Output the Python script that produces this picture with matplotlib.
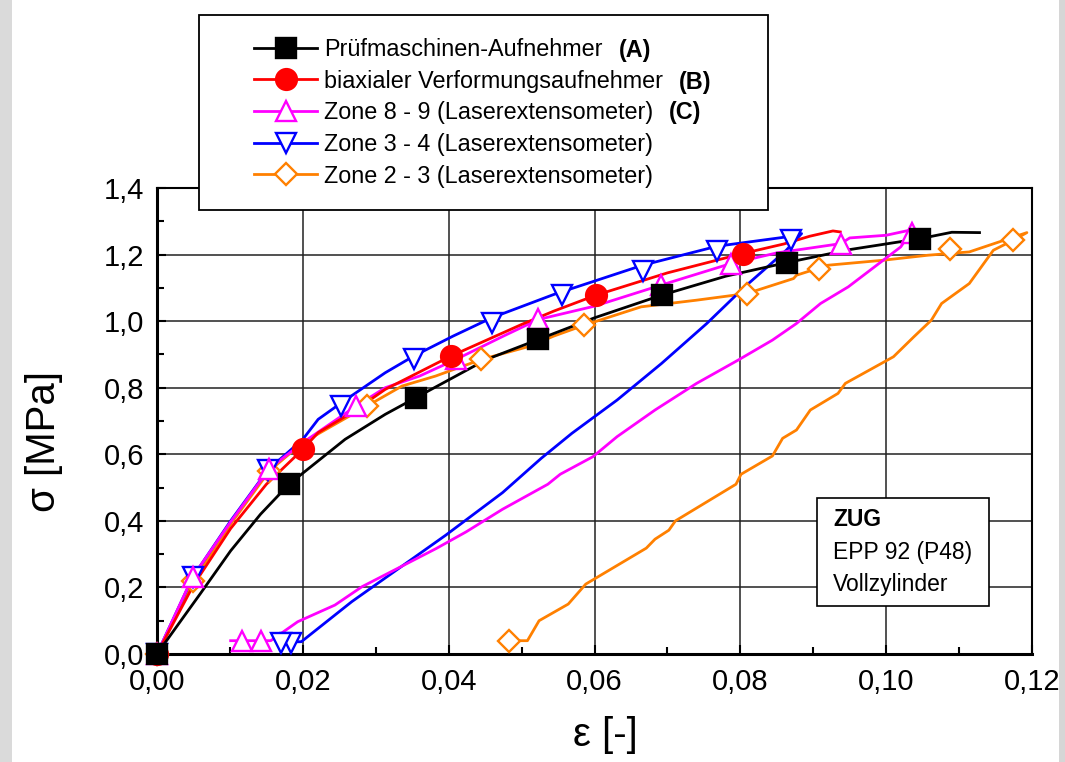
import matplotlib.pyplot as plt
from matplotlib.lines import Line2D
from matplotlib.patches import Rectangle
from matplotlib.ticker import MultipleLocator, FuncFormatter

plt.rcParams['font.family'] = ['Liberation Sans', 'DejaVu Sans']

# --- data (strain eps [-], stress sigma [MPa]) ---

# (A) Pruefmaschinen-Aufnehmer, loading only
a_x = [0, 0.0036, 0.0059, 0.0101, 0.0142, 0.0181, 0.0258, 0.0313, 0.0355, 0.0452,
       0.0523, 0.060, 0.0692, 0.078, 0.0864, 0.095, 0.1047, 0.109, 0.1128]
a_y = [0, 0.11, 0.18, 0.31, 0.42, 0.51, 0.645, 0.72, 0.77, 0.885,
       0.945, 1.01, 1.078, 1.135, 1.176, 1.215, 1.248, 1.267, 1.266]
a_mx = [0, 0.0181, 0.0355, 0.0523, 0.0692, 0.0864, 0.1047]
a_my = [0, 0.51, 0.77, 0.945, 1.078, 1.176, 1.248]

# (B) biaxialer Verformungsaufnehmer
b_x = [0, 0.005, 0.0101, 0.015, 0.02, 0.0221, 0.0267, 0.0313, 0.0403, 0.05,
       0.0544, 0.0602, 0.07, 0.0803, 0.086, 0.0895, 0.0927, 0.0937]
b_y = [0, 0.207, 0.377, 0.51, 0.615, 0.665, 0.725, 0.795, 0.895, 0.99,
       1.03, 1.078, 1.145, 1.203, 1.232, 1.255, 1.271, 1.268]
b_mx = [0, 0.02, 0.0403, 0.0602, 0.0803]
b_my = [0, 0.615, 0.895, 1.078, 1.203]

# (C) Zone 8 - 9, loading then unloading
c_x = [0, 0.0049, 0.0101, 0.0154, 0.02, 0.0273, 0.0313, 0.036, 0.041, 0.0475,
       0.0523, 0.06, 0.0691, 0.0787, 0.085, 0.0938, 0.095, 0.100, 0.1036,
       0.102, 0.0948, 0.091, 0.0877, 0.0844, 0.0797, 0.074, 0.0683, 0.0631,
       0.0598, 0.0553, 0.0536, 0.0474, 0.0424, 0.0383, 0.0281, 0.0244, 0.0193,
       0.0156, 0.0101]
c_y = [0, 0.232, 0.397, 0.557, 0.635, 0.745, 0.80, 0.835, 0.885, 0.955,
       1.005, 1.045, 1.108, 1.173, 1.205, 1.233, 1.25, 1.258, 1.275,
       1.223, 1.103, 1.053, 0.993, 0.943, 0.883, 0.813, 0.733, 0.653,
       0.593, 0.54, 0.51, 0.435, 0.367, 0.317, 0.202, 0.147, 0.097,
       0.04, 0.04]
c_mx = [0, 0.0049, 0.0154, 0.0273, 0.041, 0.0523, 0.0691, 0.0787, 0.0938, 0.1036, 0.0142, 0.0117]
c_my = [0, 0.232, 0.557, 0.745, 0.885, 1.005, 1.108, 1.173, 1.233, 1.265, 0.04, 0.04]

# Zone 3 - 4, loading then unloading
d_x = [0, 0.0049, 0.0101, 0.0152, 0.02, 0.0221, 0.0253, 0.0313, 0.0352, 0.0406,
       0.0459, 0.0544, 0.0666, 0.0768, 0.087, 0.0884,
       0.0863, 0.0806, 0.0754, 0.0692, 0.0631, 0.0569, 0.0527, 0.0474, 0.0396,
       0.0267, 0.0198, 0.0165]
d_y = [0, 0.231, 0.40, 0.553, 0.645, 0.705, 0.755, 0.845, 0.895, 0.955,
       1.01, 1.08, 1.168, 1.225, 1.255, 1.263,
       1.213, 1.103, 0.993, 0.873, 0.763, 0.663, 0.588, 0.485, 0.357,
       0.157, 0.037, 0.035]
d_mx = [0, 0.0049, 0.0152, 0.0253, 0.0352, 0.0459, 0.0555, 0.0666, 0.0768, 0.087, 0.0184, 0.017]
d_my = [0, 0.231, 0.553, 0.745, 0.885, 0.995, 1.078, 1.152, 1.212, 1.245, 0.032, 0.032]

# Zone 2 - 3, loading then unloading
e_x = [0, 0.005, 0.0101, 0.0154, 0.02, 0.0288, 0.0336, 0.0382, 0.0445, 0.0512,
       0.0544, 0.0586, 0.0664, 0.074, 0.0809, 0.0873, 0.0877, 0.092, 0.0996,
       0.1057, 0.1114, 0.1193,
       0.1174, 0.1147, 0.1114, 0.1076, 0.1062, 0.1038, 0.101, 0.0944, 0.0934,
       0.0896, 0.0877, 0.0858, 0.0844, 0.0801, 0.0794, 0.0711, 0.0702, 0.0683,
       0.0671, 0.0588, 0.0564, 0.0524, 0.0508, 0.0483]
e_y = [0, 0.22, 0.39, 0.55, 0.635, 0.745, 0.805, 0.835, 0.885, 0.925,
       0.955, 0.988, 1.043, 1.063, 1.083, 1.128, 1.138, 1.168, 1.183,
       1.198, 1.208, 1.266,
       1.243, 1.213, 1.113, 1.053, 1.003, 0.953, 0.893, 0.813, 0.783,
       0.733, 0.673, 0.648, 0.595, 0.54, 0.51, 0.40, 0.372, 0.345,
       0.318, 0.21, 0.15, 0.10, 0.04, 0.04]
e_mx = [0, 0.005, 0.0154, 0.0288, 0.0445, 0.0586, 0.0809, 0.0908, 0.1088, 0.1174, 0.0483]
e_my = [0, 0.22, 0.55, 0.745, 0.885, 0.988, 1.083, 1.158, 1.218, 1.243, 0.04]

labels = ['Prüfmaschinen-Aufnehmer', 'biaxialer Verformungsaufnehmer',
          'Zone 8 - 9 (Laserextensometer)', 'Zone 3 - 4 (Laserextensometer)',
          'Zone 2 - 3 (Laserextensometer)']
tags = ['(A)', '(B)', '(C)']
box_lines = ['ZUG', 'EPP 92 (P48)', 'Vollzylinder']

W, H = 1065, 762


def fx(x):
    return x / W


def fy(y):
    return 1 - y / H


fig = plt.figure(figsize=(W / 100, H / 100), dpi=100)

# grey strips at the left and right edge
fig.patches.append(Rectangle((0, 0), fx(12), 1, transform=fig.transFigure,
                             facecolor='#dadada', edgecolor='none', zorder=-5))
fig.patches.append(Rectangle((fx(1059), 0), fx(6), 1, transform=fig.transFigure,
                             facecolor='#d6d6d6', edgecolor='none', zorder=-5))

ax = fig.add_axes([fx(157), fy(654), fx(1032 - 157), (654 - 188) / H])

lw = 2.0
mew = 1.7
styles = [
    # x, y, marker x, marker y, colour, marker, size, face
    (e_x, e_y, e_mx, e_my, '#ff8000', 'D', 11, 'white'),
    (d_x, d_y, d_mx, d_my, '#0000ff', 'v', 15, 'white'),
    (c_x, c_y, c_mx, c_my, '#ff00ff', '^', 15, 'white'),
    (b_x, b_y, b_mx, b_my, '#ff0000', 'o', 15, '#ff0000'),
    (a_x, a_y, a_mx, a_my, 'black', 's', 14, 'black'),
]
for x, y, mx, my, col, mk, ms, fc in styles:
    ax.plot(x, y, color=col, lw=lw, zorder=3)
    ax.plot(mx, my, ls='none', marker=mk, ms=ms, mfc=fc, mec=col, mew=mew,
            zorder=4, clip_on=False)

ax.set_xlim(0, 0.12)
ax.set_ylim(0, 1.4)
ax.xaxis.set_major_locator(MultipleLocator(0.02))
ax.xaxis.set_minor_locator(MultipleLocator(0.01))
ax.yaxis.set_major_locator(MultipleLocator(0.2))
ax.yaxis.set_minor_locator(MultipleLocator(0.1))
ax.xaxis.set_major_formatter(FuncFormatter(lambda v, p: f'{v:.2f}'.replace('.', ',')))
ax.yaxis.set_major_formatter(FuncFormatter(lambda v, p: f'{v:.1f}'.replace('.', ',')))
ax.grid(True, which='major', color='#222222', lw=1.1, zorder=1)
ax.set_axisbelow(True)
ax.tick_params(which='both', direction='in', top=False, right=False, width=1.5,
               labelsize=21)
ax.tick_params(which='major', length=6.5)
ax.tick_params(which='minor', length=5)
ax.tick_params(axis='x', pad=10)
ax.tick_params(axis='y', pad=9)
for side in ['left', 'bottom']:
    ax.spines[side].set_linewidth(2.2)
for side in ['top', 'right']:
    ax.spines[side].set_linewidth(1.5)

fig.text(fx(605), fy(735), 'ε [-]', fontsize=29, ha='center', va='center')
fig.text(fx(44), fy(441), 'σ [MPa]', fontsize=29, ha='center', va='center',
         rotation=90)

# legend box sits above the top of the axes
fig.patches.append(Rectangle((fx(199), fy(210)), fx(768 - 199), (210 - 15) / H,
                             transform=fig.transFigure, facecolor='white',
                             edgecolor='black', lw=1.3, zorder=5))
handles = []
for x, y, mx, my, col, mk, ms, fc in styles[::-1]:
    handles.append(Line2D([], [], color=col, lw=lw, marker=mk, ms=ms, mfc=fc,
                          mec=col, mew=mew))
leg = fig.legend(handles, labels, loc='upper left',
                 bbox_to_anchor=(fx(254), fy(38)), frameon=False, fontsize=16.8,
                 handlelength=2.7, handletextpad=0.3, labelspacing=0.37,
                 borderpad=0, borderaxespad=0)
leg.set_zorder(6)
for tag, (tx, ty) in zip(tags, [(619, 50), (679, 82), (669, 113)]):
    fig.text(fx(tx), fy(ty), tag, fontsize=16.8, fontweight='bold',
             ha='left', va='center', zorder=7)

# material info box
fig.patches.append(Rectangle((fx(817), fy(606)), fx(989 - 817), (606 - 498) / H,
                             transform=fig.transFigure, facecolor='white',
                             edgecolor='black', lw=1.2, zorder=5))
for i, (txt, ty) in enumerate(zip(box_lines, [520, 553, 585])):
    fig.text(fx(833), fy(ty), txt, fontsize=16.5,
             fontweight='bold' if i == 0 else 'normal',
             ha='left', va='center', zorder=7)

fig.savefig('out.png', dpi=100)
